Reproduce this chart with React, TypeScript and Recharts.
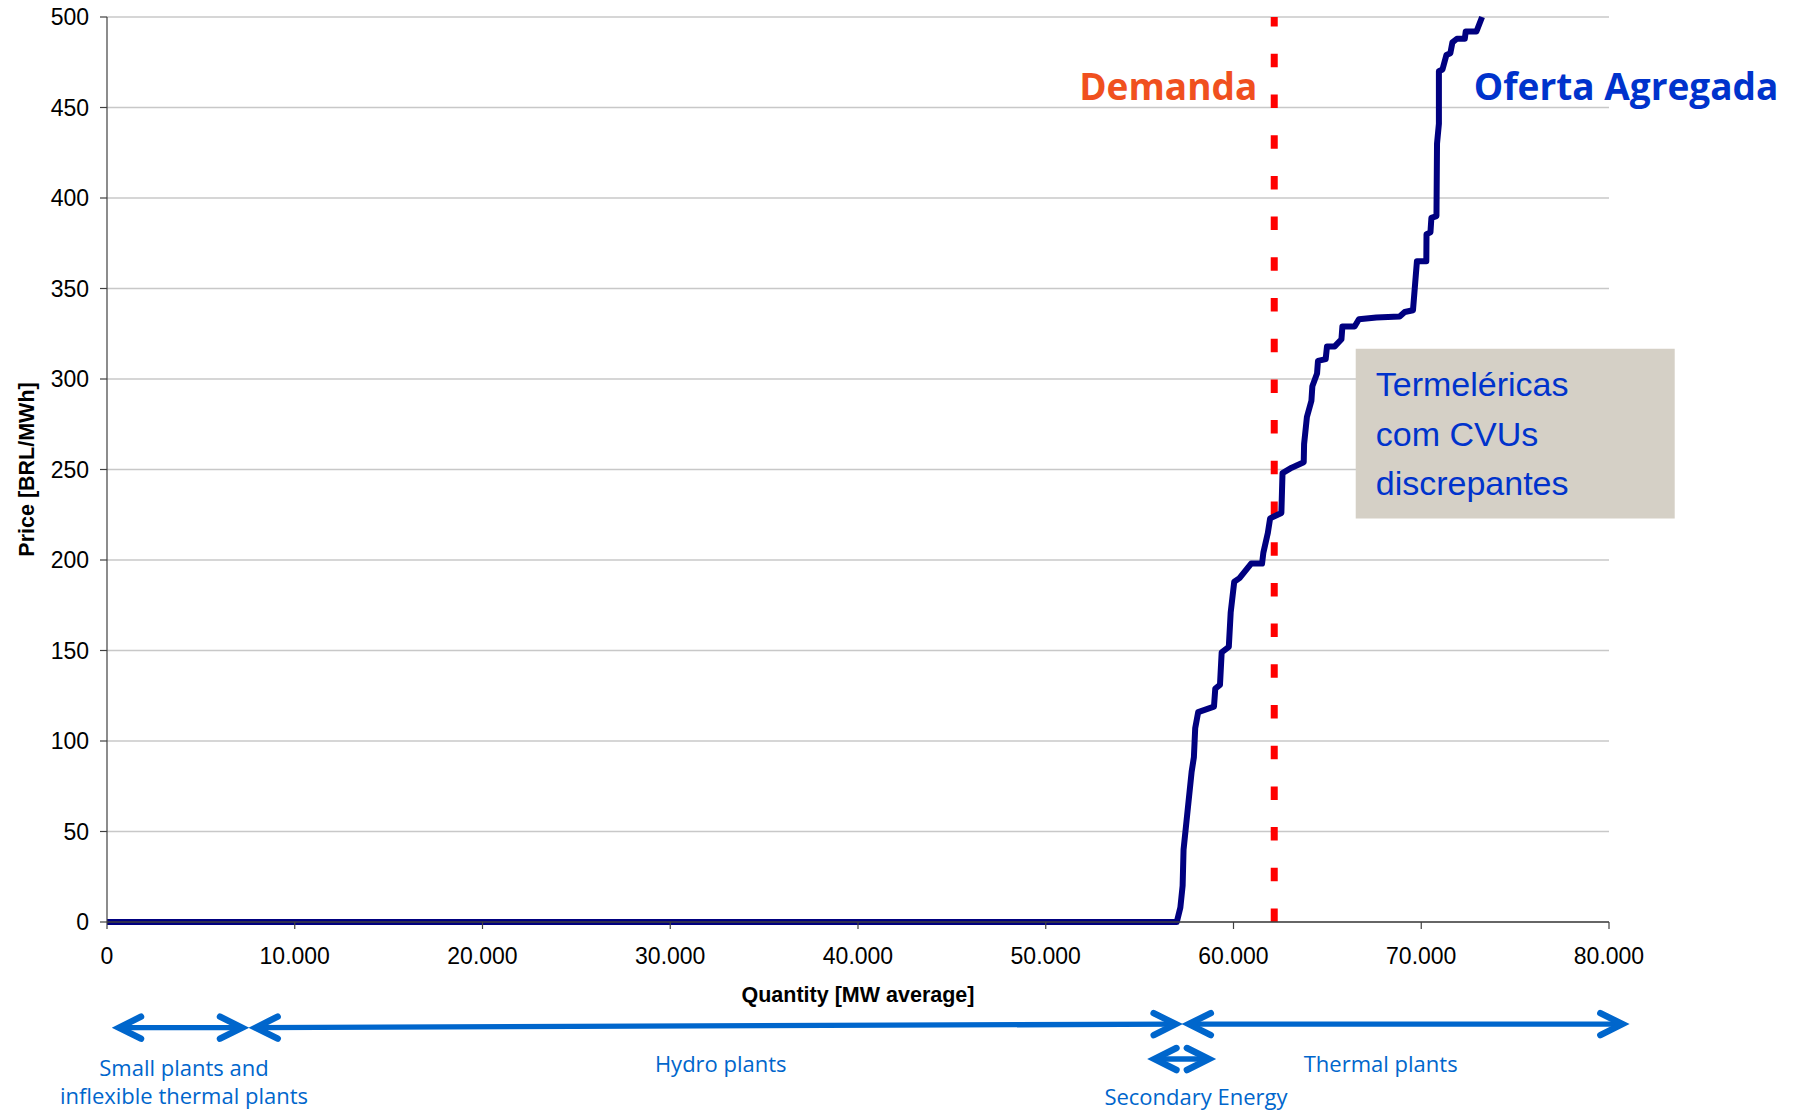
import React from 'react';
import {
  LineChart,
  Line,
  XAxis,
  YAxis,
  CartesianGrid,
  ReferenceLine,
  ReferenceArea,
  ReferenceDot,
} from 'recharts';

// Aggregated supply curve ("Oferta Agregada"): quantity [MW average] vs price [BRL/MWh]
const quantities = [
  0, 56980, 57170, 57290, 57340, 57770, 57890, 57960, 58120, 58960, 59030, 59280, 59370, 59750,
  59850, 60040, 60320, 60940, 61520, 61590, 61830, 61950, 62550, 62610, 63100, 63740, 63760,
  63910, 64150, 64200, 64450, 64500, 64910, 64980, 65390, 65750, 65800, 66450, 66680, 67610,
  68850, 69120, 69560, 69770, 70270, 70280, 70490, 70540, 70810, 70840, 70940, 70940, 71130,
  71340, 71550, 71660, 71900, 72320, 72370, 72940, 73240,
];
const prices = [
  0, 0, 8, 20, 40, 83, 91, 107, 116, 119, 129, 131, 149, 152,
  171, 188, 190, 198, 198, 204, 215, 223, 226, 248, 251, 254, 264,
  279, 288, 296, 303, 310, 311, 318, 318, 322, 329, 329, 333, 334,
  334.5, 337, 338, 365, 365, 380, 381, 389, 390, 430, 441, 470, 471,
  479, 480, 486, 488, 488, 492, 492, 500,
];

const xTicks = [0, 10000, 20000, 30000, 40000, 50000, 60000, 70000, 80000];
const yTicks = [0, 50, 100, 150, 200, 250, 300, 350, 400, 450, 500];

const demandQuantity = 62170;
const supplyLabelPoint = { x: 72800, y: 454.3 };
const boxX = [66510, 83500];
const boxY = [222.9, 316.7];
const boxLines = ['Termeléricas', 'com CVUs', 'discrepantes'];

const arrowFrom = [320, 7600, 57300, 55470];
const arrowTo = [7510, 57240, 81030, 59010];
const arrowYFrom = [-58.4, -58.4, -56.4, -75.7];
const arrowYTo = [-58.4, -56.4, -56.4, -75.7];

const spanLabelX = [4100, 32690, 58000, 67840];
const spanLabelY = [-85.1, -82.9, -101.2, -82.9];
const spanLabelText = [
  ['Small plants and', 'inflexible thermal plants'],
  ['Hydro plants'],
  ['Secondary Energy'],
  ['Thermal plants'],
];

const data = quantities.map((q, i) => ({ q, p: prices[i] }));

const fmtThousands = (v: number) => String(v).replace(/\B(?=(\d{3})+(?!\d))/g, '.');

const ARROW_BLUE = '#0066CC';

const ArrowShape = (props: any) => {
  const { x1, y1, x2, y2 } = props;
  const dx = x2 - x1;
  const dy = y2 - y1;
  const len = Math.hypot(dx, dy) || 1;
  const ux = dx / len;
  const uy = dy / len;
  const nx = -uy;
  const ny = ux;
  const L = 22;
  const W = 11;
  const inset = 6;
  const head = (tx0: number, ty0: number, dx0: number, dy0: number) => {
    const tx = tx0 - inset * dx0;
    const ty = ty0 - inset * dy0;
    return `M${tx - L * dx0 + W * nx},${ty - L * dy0 + W * ny} L${tx},${ty} L${tx - L * dx0 - W * nx},${ty - L * dy0 - W * ny}`;
  };
  return (
    <g>
      <line
        x1={x1 + inset * ux}
        y1={y1 + inset * uy}
        x2={x2 - inset * ux}
        y2={y2 - inset * uy}
        stroke={ARROW_BLUE}
        strokeWidth={5.3}
      />
      <path
        d={`${head(x2, y2, ux, uy)} ${head(x1, y1, -ux, -uy)}`}
        fill="none"
        stroke={ARROW_BLUE}
        strokeWidth={6.5}
        strokeLinecap="round"
        strokeLinejoin="miter"
      />
    </g>
  );
};

const spanLabel = (lines: string[]) => (props: any) => {
  const vb = props.viewBox || {};
  const cx = vb.x + (vb.width || 0) / 2;
  const cy = vb.y + (vb.height || 0) / 2;
  return (
    <text x={cx} y={cy} textAnchor="middle" fontFamily="'Open Sans', sans-serif" fontSize={22} fill={ARROW_BLUE}>
      {lines.map((l, i) => (
        <tspan key={i} x={cx} dy={i === 0 ? 0 : 28}>
          {l}
        </tspan>
      ))}
    </text>
  );
};

const demandLabel = (props: any) => {
  const vb = props.viewBox || {};
  return (
    <text
      x={vb.x - 17}
      y={vb.y + 83}
      textAnchor="end"
      fontFamily="'Open Sans', sans-serif"
      fontWeight={700}
      fontSize={37}
      fill="#F0501E"
    >
      Demanda
    </text>
  );
};

const supplyLabel = (props: any) => {
  const vb = props.viewBox || {};
  return (
    <text
      x={vb.x}
      y={vb.y}
      textAnchor="start"
      fontFamily="'Open Sans', sans-serif"
      fontWeight={700}
      fontSize={37}
      fill="#0033CC"
    >
      Oferta Agregada
    </text>
  );
};

const boxLabel = (props: any) => {
  const vb = props.viewBox || {};
  return (
    <text fontFamily="'Liberation Sans', Arial, sans-serif" fontSize={34} fill="#0033CC">
      {boxLines.map((l, i) => (
        <tspan key={i} x={vb.x + 20} y={vb.y + 47.7 + i * 49.5}>
          {l}
        </tspan>
      ))}
    </text>
  );
};

const xTitle = (props: any) => {
  const vb = props.viewBox || {};
  return (
    <text
      x={vb.x + vb.width / 2}
      y={vb.y + 80}
      textAnchor="middle"
      fontFamily="'Liberation Sans', Arial, sans-serif"
      fontWeight={700}
      fontSize={21.5}
      fill="#000"
    >
      Quantity [MW average]
    </text>
  );
};

const yTitle = (props: any) => {
  const vb = props.viewBox || {};
  const x = vb.x - 13.5;
  const y = vb.y + vb.height / 2;
  return (
    <text
      x={x}
      y={y}
      transform={`rotate(-90, ${x}, ${y})`}
      textAnchor="middle"
      fontFamily="'Liberation Sans', Arial, sans-serif"
      fontWeight={700}
      fontSize={21.5}
      fill="#000"
    >
      Price [BRL/MWh]
    </text>
  );
};

const tickStyle = { fontSize: 23, fill: '#000', fontFamily: "'Liberation Sans', Arial, sans-serif" };

export default function App() {
  return (
    <div style={{ position: 'absolute', left: 0, top: 0, width: 1803, height: 1111, background: '#fff' }}>
      <LineChart width={1803} height={1111} data={data} margin={{ top: 17, right: 194, bottom: 149, left: 47 }}>
        <CartesianGrid vertical={false} stroke="#C8C8C8" strokeWidth={1.3} />
        <XAxis
          dataKey="q"
          type="number"
          domain={[0, 80000]}
          ticks={xTicks}
          tickFormatter={fmtThousands}
          height={40}
          tickSize={7}
          tickMargin={19}
          tick={tickStyle}
          axisLine={{ stroke: '#404040', strokeWidth: 1.5 }}
          tickLine={{ stroke: '#404040', strokeWidth: 1.2 }}
          interval={0}
          label={xTitle}
        />
        <YAxis
          type="number"
          domain={[0, 500]}
          ticks={yTicks}
          width={60}
          tickSize={7}
          tickMargin={11}
          tick={tickStyle}
          axisLine={{ stroke: '#404040', strokeWidth: 1.2 }}
          tickLine={{ stroke: '#404040', strokeWidth: 1.2 }}
          interval={0}
          label={yTitle}
        />
        <ReferenceArea
          x1={boxX[0]}
          x2={boxX[1]}
          y1={boxY[0]}
          y2={boxY[1]}
          ifOverflow="visible"
          fill="#D5D0C6"
          fillOpacity={1}
          stroke="none"
          label={boxLabel}
        />
        <ReferenceLine
          x={demandQuantity}
          stroke="#FF0000"
          strokeWidth={7}
          strokeDasharray="13.5 27.2"
          label={demandLabel}
        />
        {arrowFrom.map((f, i) => (
          <ReferenceLine
            key={`arrow-${i}`}
            segment={[
              { x: f, y: arrowYFrom[i] },
              { x: arrowTo[i], y: arrowYTo[i] },
            ]}
            ifOverflow="visible"
            shape={ArrowShape}
          />
        ))}
        {spanLabelX.map((x, i) => (
          <ReferenceDot
            key={`lbl-${i}`}
            x={x}
            y={spanLabelY[i]}
            r={0}
            fill="none"
            stroke="none"
            ifOverflow="visible"
            label={spanLabel(spanLabelText[i])}
          />
        ))}
        <ReferenceDot
          x={supplyLabelPoint.x}
          y={supplyLabelPoint.y}
          r={0}
          fill="none"
          stroke="none"
          ifOverflow="visible"
          label={supplyLabel}
        />
        <Line
          type="linear"
          dataKey="p"
          stroke="#000080"
          strokeWidth={6}
          strokeLinejoin="round"
          dot={false}
          activeDot={false}
          isAnimationActive={false}
        />
      </LineChart>
    </div>
  );
}
